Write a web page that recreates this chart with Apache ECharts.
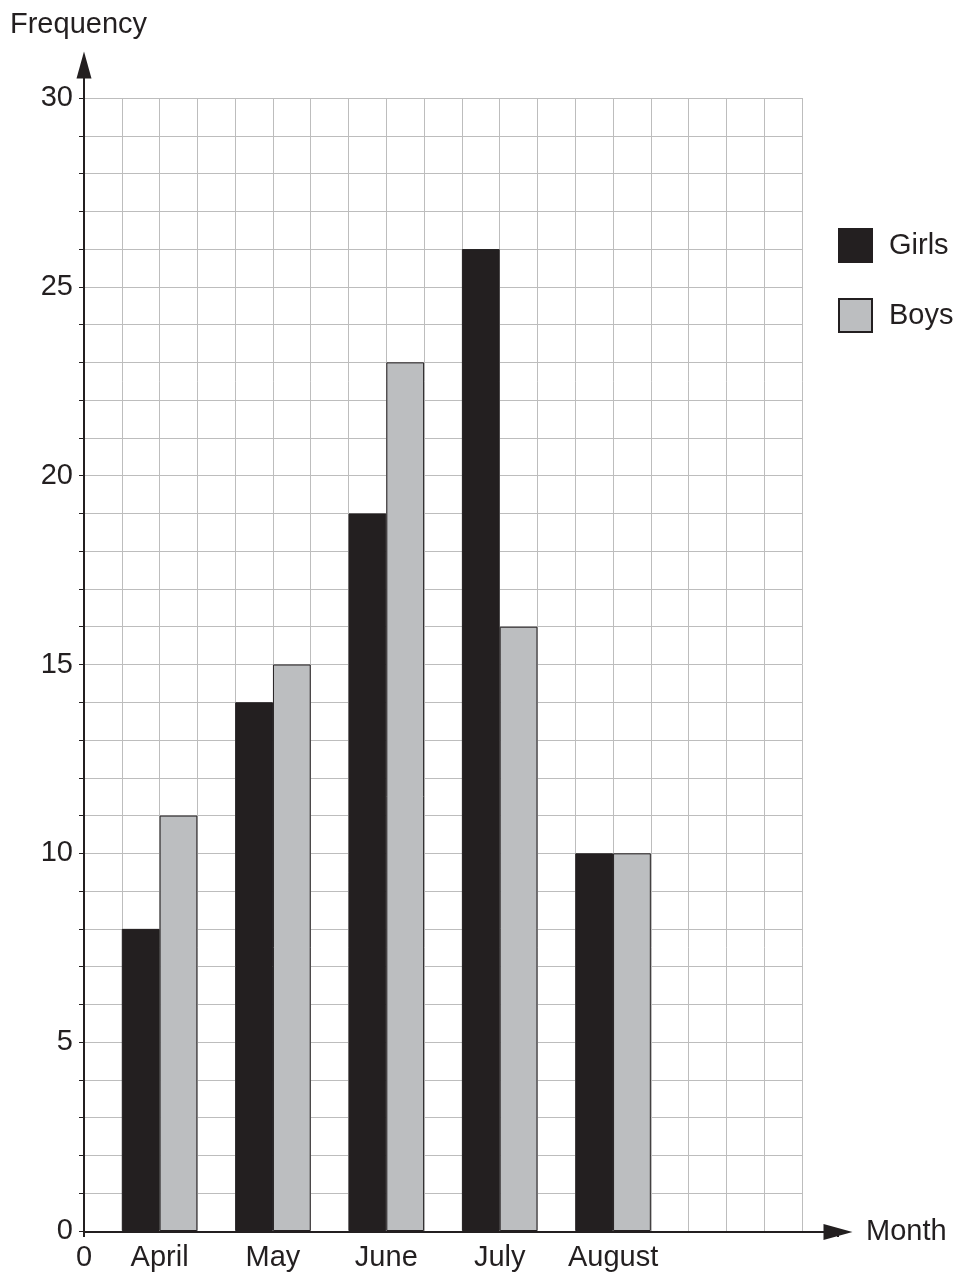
<!DOCTYPE html>
<html><head><meta charset="utf-8">
<script src="https://cdn.jsdelivr.net/npm/echarts@6/dist/echarts.min.js"></script>
<style>html,body{margin:0;padding:0;background:#fff}#c{width:956px;height:1272px}</style>
</head><body><div id="c"></div>
<script>
// ---- data ----
const months = ['April', 'May', 'June', 'July', 'August'];
const girls = [8, 14, 19, 26, 10];
const boys = [11, 15, 23, 16, 10];
const yTickLabels = [0, 5, 10, 15, 20, 25, 30];
const seriesNames = ['Girls', 'Boys'];

// ---- layout helpers (grid columns) ----
const slotCount = 19;
const slots = Array.from({length: slotCount}, (_, i) => String(i));
const girlsData = new Array(slotCount).fill('-');
const boysData = new Array(slotCount).fill('-');
const labelAt = {0: '0'};
months.forEach((m, i) => {
  girlsData[1 + 3 * i] = girls[i];
  boysData[2 + 3 * i] = boys[i];
  labelAt[2 + 3 * i] = m;
});

const ink = '#231f20';
const gridCol = '#bdbdbd';
const font = 'Liberation Sans, Arial, sans-serif';
const fs = 29;

const chart = echarts.init(document.getElementById('c'));
chart.setOption({
  animation: false,
  backgroundColor: '#fff',
  textStyle: {fontFamily: font, color: ink},
  title: {text: 'Frequency', left: 5, top: 5,
    textStyle: {fontSize: fs, fontWeight: 'normal', color: ink, fontFamily: font}},
  legend: {
    data: seriesNames, orient: 'vertical', left: 838, top: 228, padding: 0,
    itemWidth: 33, itemHeight: 33, itemGap: 35, icon: 'rect',
    textStyle: {fontSize: fs, color: ink, fontFamily: font, padding: [0, 0, 0, 12]}
  },
  grid: [
    {left: 84, right: 154, top: 98, bottom: 40},
    {left: 84, right: 118, top: 65, bottom: 40}
  ],
  xAxis: [
    {gridIndex: 0, type: 'value', min: 0, max: slotCount, interval: 1,
      axisLine: {show: false}, axisTick: {show: false},
      splitLine: {show: true, lineStyle: {color: gridCol, width: 1}},
      axisLabel: {show: true, margin: 12, fontSize: fs, color: ink, fontFamily: font,
        showMinLabel: true, showMaxLabel: true,
        formatter: v => (labelAt[v] !== undefined ? labelAt[v] : '')}},
    {gridIndex: 0, type: 'category', data: slots, show: false, boundaryGap: true},
    {gridIndex: 1, type: 'value', min: 0, max: 1, interval: 1,
      name: 'Month', nameLocation: 'end', nameGap: 28,
      nameTextStyle: {fontSize: fs, color: ink, fontFamily: font, verticalAlign: 'middle'},
      axisLine: {show: true, symbol: ['none', 'triangle'], symbolSize: [16, 29],
        lineStyle: {color: ink, width: 2}},
      axisTick: {show: true, length: 5, lineStyle: {color: ink, width: 2}},
      axisLabel: {show: false}, splitLine: {show: false}}
  ],
  yAxis: [
    {gridIndex: 0, type: 'value', min: 0, max: 30, interval: 5,
      axisLine: {show: false},
      axisTick: {show: true, length: 5, lineStyle: {color: ink, width: 1}},
      minorTick: {show: true, splitNumber: 5, length: 5, lineStyle: {color: ink, width: 1}},
      splitLine: {show: true, lineStyle: {color: gridCol, width: 1}},
      minorSplitLine: {show: true, lineStyle: {color: gridCol, width: 1}},
      axisLabel: {margin: 11, fontSize: fs, color: ink, fontFamily: font,
        formatter: v => (yTickLabels.indexOf(v) >= 0 ? String(v) : '')}},
    {gridIndex: 1, type: 'value', min: 0, max: 1,
      axisLine: {show: true, symbol: ['none', 'triangle'], symbolSize: [15, 27],
        lineStyle: {color: ink, width: 2}},
      axisTick: {show: false}, axisLabel: {show: false}, splitLine: {show: false}}
  ],
  series: [
    {name: seriesNames[0], type: 'bar', xAxisIndex: 1, yAxisIndex: 0,
      data: girlsData, barWidth: '100%', barGap: '-100%', z: 3,
      itemStyle: {color: ink, borderColor: ink, borderWidth: 1}},
    {name: seriesNames[1], type: 'bar', xAxisIndex: 1, yAxisIndex: 0,
      data: boysData, barWidth: '100%', barGap: '-100%', z: 3,
      itemStyle: {color: '#bcbec0', borderColor: ink, borderWidth: 1}}
  ]
});
</script>
</body></html>
